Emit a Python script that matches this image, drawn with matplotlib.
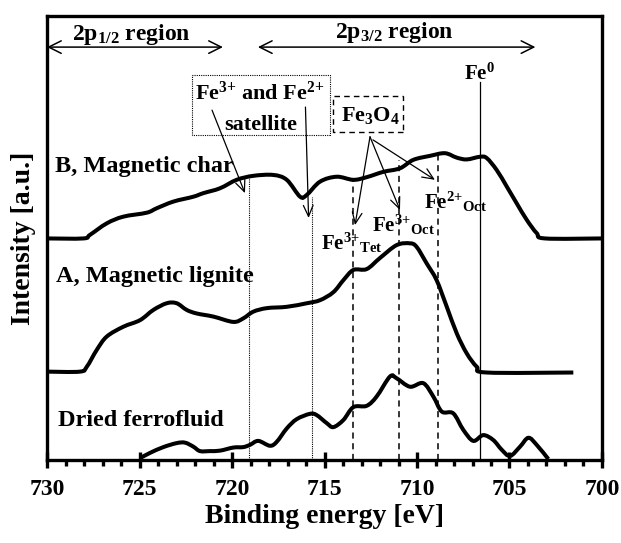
"""
Fe 2p XPS spectra of the dried ferrofluid, magnetic lignite and magnetic char,
with the 2p1/2 / 2p3/2 regions and the Fe3O4 / satellite / Fe0 positions marked.
"""

###############################################################################
# Import necessary libraries
# --------------------------
import numpy as np
import matplotlib.pyplot as plt
from matplotlib.patches import Rectangle, PathPatch
from matplotlib.path import Path

plt.rcParams['font.family'] = ['Liberation Serif', 'DejaVu Serif']
plt.rcParams['font.weight'] = 'bold'
plt.rcParams['axes.labelweight'] = 'bold'
plt.rcParams['mathtext.fontset'] = 'custom'
plt.rcParams['mathtext.rm'] = 'Liberation Serif:bold'
plt.rcParams['mathtext.bf'] = 'Liberation Serif:bold'
plt.rcParams['mathtext.it'] = 'Liberation Serif:bold'
plt.rcParams['mathtext.default'] = 'bf'

###############################################################################
# Spectra (binding energy [eV], intensity [a.u.], already offset)
# ---------------------------------------------------------------
energy_char = [730.0, 728.04, 727.68, 726.77, 725.88, 724.61, 724.07, 723.17, 722.09,
               721.55, 720.65, 719.75, 718.85, 717.77, 717.04, 716.32, 715.96, 715.24,
               714.34, 713.44, 712.72, 711.82, 710.92, 710.20, 709.30, 708.49, 707.85,
               707.31, 706.59, 706.23, 705.69, 705.15, 704.61, 704.07, 703.53, 703.08,
               700.02]
intensity_char = [49.9, 49.9, 50.7, 53.3, 54.8, 55.7, 56.7, 58.2, 59.3,
                  60.1, 61.2, 63.1, 64.0, 64.2, 63.1, 59.3, 59.7, 62.7,
                  63.8, 63.1, 63.7, 64.9, 65.7, 67.6, 68.5, 69.1, 68.1,
                  67.7, 68.3, 68.0, 65.3, 61.6, 57.8, 54.1, 51.1, 49.9,
                  49.9]

energy_lignite = [730.0, 728.22, 727.85, 727.31, 726.77, 725.88, 724.97, 724.25, 723.53,
                  722.99, 722.45, 721.91, 721.01, 719.93, 719.39, 718.85, 718.12, 717.04,
                  715.96, 715.24, 714.52, 713.98, 713.44, 712.72, 712.00, 711.10, 710.38,
                  710.02, 709.48, 708.94, 708.39, 707.85, 707.31, 706.77, 706.23, 701.55]
intensity_lignite = [19.9, 19.9, 21.0, 24.8, 27.8, 30.0, 31.5, 33.8, 35.3,
                     35.3, 33.8, 33.0, 32.3, 31.1, 31.9, 33.4, 34.2, 34.5,
                     35.3, 36.0, 37.8, 40.5, 42.8, 43.0, 45.5, 48.4, 48.8,
                     48.0, 44.3, 40.5, 34.5, 28.5, 24.0, 21.0, 19.7, 19.7]

energy_ferro = [724.97, 724.43, 723.71, 722.99, 722.54, 722.09, 721.73, 721.19, 720.65,
                719.93, 719.39, 719.03, 718.58, 717.95, 717.58, 717.04, 716.50, 715.78,
                715.42, 714.88, 714.52, 713.98, 713.44, 712.72, 712.18, 711.46, 711.10,
                710.38, 709.66, 709.12, 708.66, 708.04, 707.50, 706.96, 706.42, 705.88,
                705.42, 704.97, 704.43, 703.98, 703.53, 702.90]
intensity_ferro = [0.4, 1.6, 2.9, 3.8, 3.9, 3.0, 2.0, 2.0, 2.1,
                   2.8, 2.9, 3.4, 4.3, 3.2, 4.1, 7.1, 9.2, 10.4,
                   10.1, 8.3, 7.4, 9.0, 11.9, 12.2, 14.3, 18.8, 18.4,
                   16.5, 17.3, 14.3, 10.9, 10.5, 6.8, 4.3, 5.6, 4.5,
                   2.3, 0.9, 3.0, 5.0, 3.4, 0.2]

# reference positions [eV] and the height the marker lines reach
satellite_pos = [719.07, 715.7]
satellite_top = [64.2, 59.3]
fe3o4_pos = [713.48, 710.97, 708.85]
fe3o4_top = [63.1, 67.6, 68.7]
fe0_pos = 706.6
fe0_top = 85.2


###############################################################################
# Smoothed line (like a spreadsheet "smoothed line" series)
# ----------------------------------------------------------
def smooth_path(x, y):
    """Cubic Bezier path through the points (Catmull-Rom tangents)."""
    p = np.column_stack([x, y]).astype(float)
    ext = np.vstack([p[0], p, p[-1]])
    verts = [p[0]]
    codes = [Path.MOVETO]
    for i in range(len(p) - 1):
        p0, p1, p2, p3 = ext[i], ext[i + 1], ext[i + 2], ext[i + 3]
        c1 = p1 + (p2 - p0) / 6.0
        c2 = p2 - (p3 - p1) / 6.0
        verts += [c1, c2, p2]
        codes += [Path.CURVE4] * 3
    return Path(verts, codes)


###############################################################################
# Figure
# ------
fig = plt.figure(figsize=(6.21, 5.43), dpi=100)
ax = fig.add_axes([0.0757, 0.1529, 0.8937, 0.8176])

lw_curve = 2.9
for e, i in [(energy_char, intensity_char), (energy_lignite, intensity_lignite),
             (energy_ferro, intensity_ferro)]:
    ax.add_patch(PathPatch(smooth_path(e, i), fill=False, edgecolor='black', lw=lw_curve,
                           capstyle='butt', joinstyle='round', zorder=3))

for pos, top in zip(satellite_pos, satellite_top):
    ax.plot([pos, pos], [0, top], color='black', lw=0.8, linestyle=(0, (1, 1)), zorder=2)
for pos, top in zip(fe3o4_pos, fe3o4_top):
    ax.plot([pos, pos], [0, top], color='black', lw=1.1, linestyle=(0, (4, 3)), zorder=2)
ax.plot([fe0_pos, fe0_pos], [0, fe0_top], color='black', lw=0.9, zorder=2)
ax.text(fe0_pos, 84.6, r'$Fe^{0}$', ha='center', va='bottom', fontsize=15)

# region arrows
arrow_kw = dict(arrowstyle='<->,head_length=0.9,head_width=0.45', color='black', lw=1.1,
                shrinkA=0, shrinkB=0)
ax.annotate('', xy=(720.49, 93.0), xytext=(730.0, 93.0), arrowprops=arrow_kw)
ax.annotate('', xy=(703.6, 93.0), xytext=(718.6, 93.0), arrowprops=arrow_kw)
ax.text(725.46, 95.9, r'$2p_{1/2}$ region', ha='center', va='center', fontsize=17)
ax.text(711.24, 96.3, r'$2p_{3/2}$ region', ha='center', va='center', fontsize=17)

# satellite box
ax.add_patch(Rectangle((714.70, 73.2), 722.16 - 714.70, 86.7 - 73.2, fill=False,
                       lw=0.8, linestyle=(0, (1, 1)), edgecolor='black', zorder=2))
ax.text(718.49, 82.7, r'$Fe^{3{+}}$ and $Fe^{2{+}}$', ha='center', va='center', fontsize=16)
ax.text(718.46, 75.5, 'satellite', ha='center', va='center', fontsize=16)

# Fe3O4 box
ax.add_patch(Rectangle((710.76, 73.9), 714.54 - 710.76, 82.0 - 73.9, fill=False,
                       lw=1.0, linestyle=(0, (4, 3)), edgecolor='black', zorder=2))
ax.text(712.50, 77.6, r'$Fe_{3}O_{4}$', ha='center', va='center', fontsize=16)

pointer_kw = dict(arrowstyle='->,head_length=0.8,head_width=0.35', color='black', lw=0.9,
                  shrinkA=0, shrinkB=0)
ax.annotate('', xy=(719.30, 60.1), xytext=(721.08, 78.8), arrowprops=pointer_kw)
ax.annotate('', xy=(715.86, 54.5), xytext=(716.03, 79.5), arrowprops=pointer_kw)
ax.annotate('', xy=(713.35, 52.9), xytext=(712.54, 72.8), arrowprops=pointer_kw)
ax.annotate('', xy=(710.92, 56.3), xytext=(712.54, 72.8), arrowprops=pointer_kw)
ax.annotate('', xy=(709.03, 63.1), xytext=(712.38, 72.1), arrowprops=pointer_kw)

ax.text(713.50, 49.0, r'$Fe^{3{+}}{}_{Tet}$', ha='center', va='center', fontsize=15)
ax.text(710.70, 52.9, r'$Fe^{3{+}}{}_{Oct}$', ha='center', va='center', fontsize=15)
ax.text(707.89, 58.1, r'$Fe^{2{+}}{}_{Oct}$', ha='center', va='center', fontsize=15)

# curve labels
ax.text(729.57, 66.2, 'B, Magnetic char', ha='left', va='center', fontsize=17.5)
ax.text(729.51, 41.4, 'A, Magnetic lignite', ha='left', va='center', fontsize=17.5)
ax.text(729.41, 8.8, 'Dried ferrofluid', ha='left', va='center', fontsize=17.5)

###############################################################################
# Axes
# ----
ax.set_xlim(730, 700)
ax.set_ylim(0, 100)
ax.set_xticks(np.arange(730, 699, -5))
ax.set_xticks(np.arange(730, 699, -1), minor=True)
ax.set_yticks([])
ax.tick_params(axis='x', which='major', direction='inout', length=11, width=2.4,
               labelsize=17, pad=8)
ax.tick_params(axis='x', which='minor', direction='out', length=4, width=2.4)
for spine in ax.spines.values():
    spine.set_linewidth(2.4)

ax.set_xlabel('Binding energy [eV]', fontsize=20, labelpad=3)
ax.set_ylabel('Intensity [a.u.]', fontsize=20, labelpad=8)

plt.savefig('out.png', dpi=100)
